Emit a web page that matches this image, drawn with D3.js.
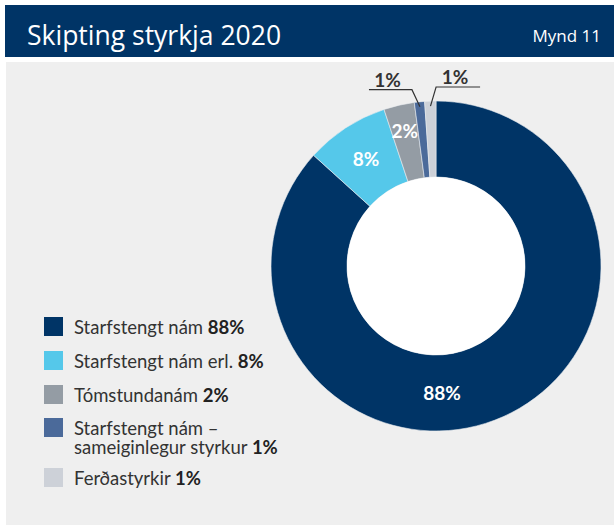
<!DOCTYPE html>
<html>
<head>
<meta charset="utf-8">
<script src="https://cdn.jsdelivr.net/npm/d3@7"></script>
<style>
  html, body { margin: 0; padding: 0; background: #fff; }
  svg { display: block; }
</style>
</head>
<body>
<svg id="chart"></svg>
<script>
// Chart data
const categories = ["Starfstengt nám", "Starfstengt nám erl.", "Tómstundanám", "Starfstengt nám –\nsameiginlegur styrkur", "Ferðastyrkir"];
const shares = [86.7, 8.2, 3.0, 1.0, 1.1];     // slice sizes
const pctLabels = ["88%", "8%", "2%", "1%", "1%"];
const colors = ["#003466", "#55c8ea", "#949ca4", "#4b6a9a", "#cdd1d8"];

const width = 614, height = 525;
const svg = d3.select("#chart").attr("width", width).attr("height", height);

// Header band
svg.append("rect").attr("x", 5).attr("y", 5).attr("width", width - 5).attr("height", 52).attr("fill", "#003466");
svg.append("text")
    .attr("x", 27).attr("y", 45)
    .attr("font-family", "'Open Sans', sans-serif")
    .attr("font-size", "26.5px")
    .attr("fill", "#fff")
    .text("Skipting styrkja 2020");
svg.append("text")
    .attr("x", 601).attr("y", 42)
    .attr("text-anchor", "end")
    .attr("font-family", "'Open Sans', sans-serif")
    .attr("font-size", "17px")
    .attr("fill", "#fff")
    .text("Mynd 11");

// Grey panel
svg.append("rect").attr("x", 6).attr("y", 62).attr("width", width - 6).attr("height", height - 62).attr("fill", "#efefef");

// Donut
const cx = 436, cy = 266;
const outerR = 165, innerR = 89;

const pie = d3.pie().sort(null).value(d => d);
const arcs = pie(shares);
const arc = d3.arc().innerRadius(innerR).outerRadius(outerR);

const g = svg.append("g").attr("transform", `translate(${cx},${cy})`);

g.selectAll("path.slice")
    .data(arcs)
    .join("path")
    .attr("class", "slice")
    .attr("d", arc)
    .attr("fill", (d, i) => colors[i])
    .attr("stroke", "#e9ecf0")
    .attr("stroke-width", 0.6);

// white hole
g.append("circle").attr("r", innerR).attr("fill", "#fff");

const labelFont = "Lato, 'Open Sans', sans-serif";

// inner labels for the bigger slices
arcs.forEach((d, i) => {
    if (shares[i] < 2) return;
    const mid = (d.startAngle + d.endAngle) / 2;
    let ang = mid, rr = 128;
    if (i === 0) { ang = mid + 0.37; rr = 127; }   // big slice label sits lower
    if (i === 2) { rr = 139; }
    const p = d3.pointRadial(ang, rr);
    g.append("text")
        .attr("x", p[0]).attr("y", p[1])
        .attr("text-anchor", "middle")
        .attr("dominant-baseline", "central")
        .attr("font-family", labelFont)
        .attr("font-weight", "bold")
        .attr("font-size", "19px")
        .attr("fill", "#fff")
        .text(pctLabels[i]);
});

// outside labels with leader lines for the tiny slices
const leaders = [
    { i: 3, elbowR: 178, dir: -1, len: 43 },
    { i: 4, elbowR: 179, dir: 1, len: 44 }
];
leaders.forEach(l => {
    const d = arcs[l.i];
    const mid = (d.startAngle + d.endAngle) / 2;
    const a = d3.pointRadial(mid, 160);
    const b = d3.pointRadial(mid + l.dir * 0.035, l.elbowR);
    const c = [b[0] + l.dir * l.len, b[1]];
    g.append("polyline")
        .attr("points", [a, b, c].map(p => p.join(",")).join(" "))
        .attr("fill", "none")
        .attr("stroke", "#333")
        .attr("stroke-width", 1.2);
    g.append("text")
        .attr("x", (b[0] + c[0]) / 2 + (l.dir < 0 ? -3 : -3))
        .attr("y", b[1] - 3)
        .attr("text-anchor", "middle")
        .attr("font-family", labelFont)
        .attr("font-weight", "bold")
        .attr("font-size", "19px")
        .attr("fill", "#333")
        .text(pctLabels[l.i]);
});

// Legend
const legendY = [317, 351, 385, 418, 468];
const legend = svg.append("g");
categories.forEach((name, i) => {
    const y0 = legendY[i];
    legend.append("rect")
        .attr("x", 44).attr("y", y0)
        .attr("width", 19).attr("height", 19)
        .attr("fill", colors[i]);
    const lines = name.split("\n");
    const t = legend.append("text")
        .attr("font-family", labelFont)
        .attr("font-size", "18.5px")
        .attr("fill", "#333");
    lines.forEach((ln, j) => {
        t.append("tspan")
            .attr("x", 74)
            .attr("y", y0 + 17 + j * 19)
            .text(ln + (j === lines.length - 1 ? " " : ""));
        if (j === lines.length - 1) {
            t.append("tspan").attr("font-weight", "bold").attr("fill", "#222").text(pctLabels[i]);
        }
    });
});
</script>
</body>
</html>
